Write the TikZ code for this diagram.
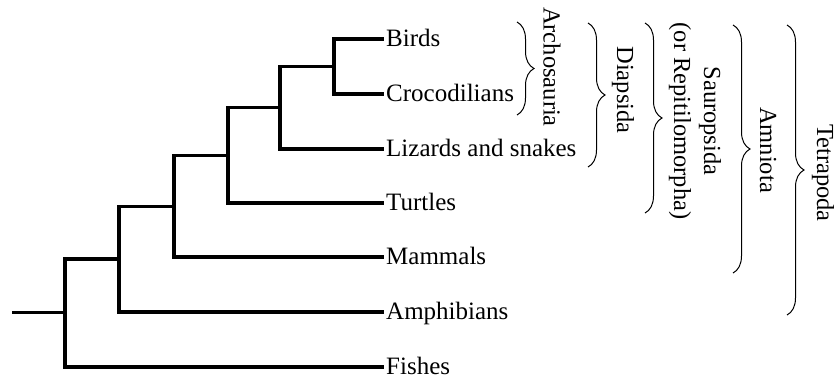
\documentclass[tikz,border=0pt]{standalone}
\usepackage{fontspec}
\setmainfont{Liberation Serif}
\usetikzlibrary{decorations.pathreplacing}
\begin{document}
\begin{tikzpicture}[x=1pt,y=-1pt,
  branch/.style={line width=3.3pt, line join=miter},
  leaf/.style={anchor=west, inner xsep=2pt, inner ysep=0pt, text height=14pt, text depth=0pt, font=\fontsize{25}{29}\selectfont},
  clade/.style={decorate, decoration={brace, amplitude=17pt}, line width=1pt},
  cladename/.style={rotate=-90, font=\fontsize{24.5}{30}\selectfont, align=center, inner sep=0pt}]
\useasboundingbox (0,0) rectangle (838,381);
% leaves
\node[leaf] (birds)   at (384,39)  {Birds};
\node[leaf] (croc)    at (384,94)  {Crocodilians};
\node[leaf] (lizards) at (384,149) {Lizards and snakes};
\node[leaf] (turtles) at (384,203) {Turtles};
\node[leaf] (mammals) at (384,257) {Mammals};
\node[leaf] (amph)    at (384,312) {Amphibians};
\node[leaf] (fishes)  at (384,367) {Fishes};
% internal nodes
\coordinate (n1) at (334,66.5);
\coordinate (n2) at (280,107.75);
\coordinate (n3) at (228,155.4);
\coordinate (n4) at (174,206.2);
\coordinate (n5) at (119,259.1);
\coordinate (n6) at (65,312.5);
\coordinate (root) at (12,312.5);
% branches
\draw[branch] (n1) |- (birds.west);
\draw[branch] (n1) |- (croc.west);
\draw[branch] (n2) |- (n1);
\draw[branch] (n2) |- (lizards.west);
\draw[branch] (n3) |- (n2);
\draw[branch] (n3) |- (turtles.west);
\draw[branch] (n4) |- (n3);
\draw[branch] (n4) |- (mammals.west);
\draw[branch] (n5) |- (n4);
\draw[branch] (n5) |- (amph.west);
\draw[branch] (n6) |- (n5);
\draw[branch] (n6) |- (fishes.west);
\draw[branch] (root) -- (n6);
% braces
\coordinate (a1) at (517,22);  \coordinate (a2) at (517,115);
\coordinate (d1) at (588,23);  \coordinate (d2) at (588,167);
\coordinate (s1) at (645,23);  \coordinate (s2) at (645,213);
\coordinate (m1) at (733,25);  \coordinate (m2) at (733,273);
\coordinate (t1) at (787,25);  \coordinate (t2) at (787,315);
\draw[clade] (a1) -- (a2);
\draw[clade] (d1) -- (d2);
\draw[clade] (s1) -- (s2);
\draw[clade] (m1) -- (m2);
\draw[clade] (t1) -- (t2);
% clade names
\node[cladename] (archo) at (552,67)  {Archosauria};
\node[cladename] (diap)  at (623,90)  {Diapsida};
\node[cladename] (saur)  at (695,121) {Sauropsida\\(or Repitilomorpha)};
\node[cladename] (amnio) at (768,150) {Amniota};
\node[cladename] (tetra) at (823,173) {Tetrapoda};
\end{tikzpicture}
\end{document}
